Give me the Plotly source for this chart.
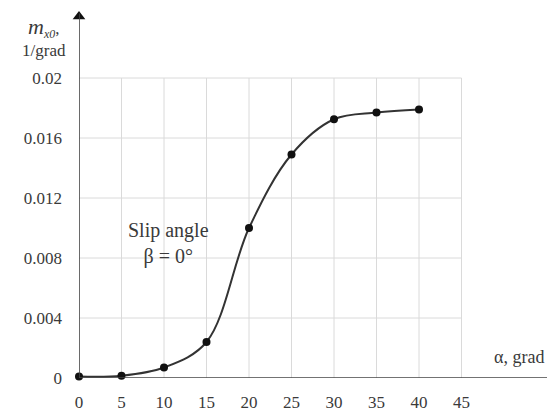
import plotly.graph_objects as go

alpha = [0, 5, 10, 15, 20, 25, 30, 35, 40]
m_x0 = [0.0001, 0.00015, 0.0007, 0.0024, 0.0100, 0.0149, 0.01725, 0.0177, 0.0179]
x_ticks = [0, 5, 10, 15, 20, 25, 30, 35, 40, 45]
y_ticks = [0, 0.004, 0.008, 0.012, 0.016, 0.02]
y_tick_text = ["0", "0.004", "0.008", "0.012", "0.016", "0.02"]

serif = "Liberation Serif"
axis_col = "#444444"
grid_col = "#dadada"
text_col = "#3a3a3a"
X_END = 55.6
Y_END = 0.0243

fig = go.Figure()

# gridlines limited to the 45 / 0.02 frame
for xv in x_ticks[1:]:
    fig.add_shape(type="line", x0=xv, x1=xv, y0=0, y1=y_ticks[-1], xref="x", yref="y",
                  line=dict(color=grid_col, width=1), layer="below")
for yv in y_ticks[1:]:
    fig.add_shape(type="line", x0=0, x1=x_ticks[-1], y0=yv, y1=yv, xref="x", yref="y",
                  line=dict(color=grid_col, width=1), layer="below")

# axis lines
fig.add_shape(type="line", x0=0, x1=X_END, y0=0, y1=0, xref="x", yref="y",
              line=dict(color=axis_col, width=1.6))
fig.add_shape(type="line", x0=0, x1=0, y0=0, y1=Y_END, xref="x", yref="y",
              line=dict(color=axis_col, width=1.6))
# arrow heads
fig.add_trace(go.Scatter(x=[X_END - 0.2], y=[0], mode="markers",
                         marker=dict(symbol="triangle-right", size=11, color="#111"),
                         cliponaxis=False, showlegend=False, hoverinfo="skip"))
fig.add_trace(go.Scatter(x=[0], y=[Y_END - 0.0002], mode="markers",
                         marker=dict(symbol="triangle-up", size=11, color="#111"),
                         cliponaxis=False, showlegend=False, hoverinfo="skip"))

fig.add_trace(go.Scatter(
    x=alpha, y=m_x0, mode="lines+markers",
    line=dict(color="#333333", width=2, shape="spline", smoothing=1.0),
    marker=dict(color="#111111", size=8),
    cliponaxis=False, showlegend=False,
))

fig.add_annotation(x=10.5, y=0.0090, xref="x", yref="y", showarrow=False,
                   text="Slip angle<br>β = 0°", font=dict(family=serif, size=20, color=text_col),
                   align="center")
fig.add_annotation(x=48.6, y=0.0014, xref="x", yref="y", showarrow=False, xanchor="left",
                   text="α, grad", font=dict(family=serif, size=18, color=text_col))
fig.add_annotation(x=-0.073, y=0.995, xref="paper", yref="paper", xanchor="center", yanchor="top",
                   showarrow=False, align="center",
                   text="<span style='font-size:22px'><i>m</i></span><i><sub>x0</sub></i>,<br>1/grad",
                   font=dict(family=serif, size=17, color=text_col))

fig.update_layout(
    width=547, height=411,
    margin=dict(l=71, r=2, t=2, b=41),
    plot_bgcolor="white", paper_bgcolor="white",
    xaxis=dict(range=[0, 474 / 8.5], tickvals=x_ticks, ticktext=[str(v) for v in x_ticks],
               showgrid=False, zeroline=False, showline=False, ticks="",
               ticklabelstandoff=12,
               tickfont=dict(family=serif, size=17, color=text_col)),
    yaxis=dict(range=[0, 368 / 15000], tickvals=y_ticks, ticktext=y_tick_text,
               showgrid=False, zeroline=False, showline=False, ticks="",
               ticklabelstandoff=16,
               tickfont=dict(family=serif, size=17, color=text_col)),
)

fig.write_html("out.html")
